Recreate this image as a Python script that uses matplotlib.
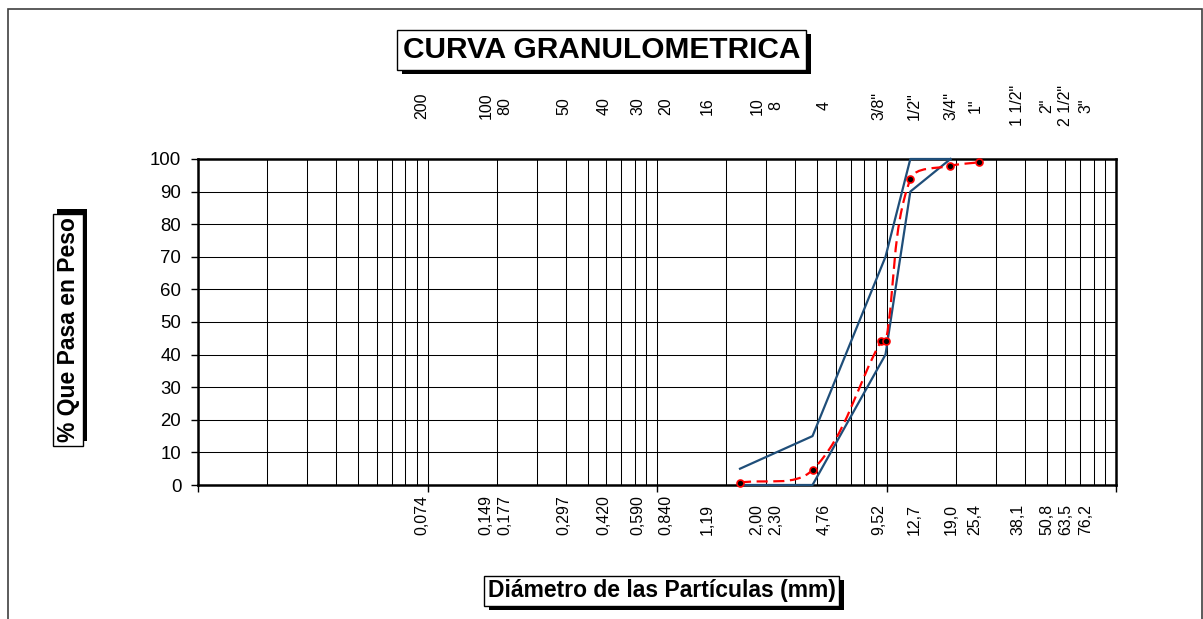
import numpy as np
import matplotlib
matplotlib.use("Agg")
import matplotlib.pyplot as plt
import matplotlib.transforms as mtransforms
from matplotlib.path import Path
from matplotlib.patches import PathPatch, Rectangle
from matplotlib.ticker import LogLocator, NullFormatter, MultipleLocator

plt.rcParams['font.family'] = ['Liberation Sans', 'DejaVu Sans']

# sieve labels (bottom: opening in mm, top: sieve number / size)
mm_labels = ["0,074", "0,149", "0,177", "0,297", "0,420", "0,590", "0,840", "1,19",
             "2,00", "2,30", "4,76", "9,52", "12,7", "19,0", "25,4", "38,1", "50,8",
             "63,5", "76,2"]
sieve_labels = ["200", "100", "80", "50", "40", "30", "20", "16", "10", "8", "4",
                '3/8"', '1/2"', '3/4"', '1"', '1 1/2"', '2"', '2 1/2"', '3"']
# where the labels sit along the log axis (mm)
label_pos_mm = [0.0946, 0.180, 0.218, 0.394, 0.587, 0.826, 1.094, 1.65, 2.73, 3.30,
                5.34, 9.27, 13.2, 19.1, 24.3, 37.4, 50.0, 60.5, 74.0]

# specification limits
upper_mm = [2.30, 4.76, 9.9, 12.7, 19.0]
upper_pct = [5, 15, 70, 100, 100]
lower_mm = [2.30, 4.76, 9.9, 12.7, 19.0]
lower_pct = [0, 0, 40, 90, 100]

# sample grading
sample_mm = [2.30, 4.76, 9.5, 9.95, 12.7, 19.0, 25.4]
sample_pct = [0.7, 4.6, 44.3, 44.3, 93.8, 97.9, 99.0]

W, H = 1203, 619
fig = plt.figure(figsize=(W / 100, H / 100), dpi=100)
ax = fig.add_axes([198 / W, 1 - 485 / H, 918 / W, 326 / H])

ax.set_xscale('log')
ax.set_xlim(0.01, 100)
ax.set_ylim(0, 100)

ax.xaxis.set_major_locator(LogLocator(base=10, numticks=10))
ax.xaxis.set_minor_locator(LogLocator(base=10, subs=np.arange(2, 10), numticks=10))
ax.xaxis.set_major_formatter(NullFormatter())
ax.xaxis.set_minor_formatter(NullFormatter())
ax.yaxis.set_major_locator(MultipleLocator(10))

ax.grid(which='both', axis='x', color='black', lw=0.75)
ax.grid(which='major', axis='y', color='black', lw=0.75)
ax.tick_params(axis='x', which='major', direction='out', length=5, width=1, color='black')
ax.tick_params(axis='x', which='minor', length=0)
ax.tick_params(axis='y', direction='out', length=5, width=1, pad=7, labelsize=13.4)
for sp in ax.spines.values():
    sp.set_linewidth(1.8)
    sp.set_color('black')

# limit curves
ax.plot(upper_mm, upper_pct, color='#1F4E79', lw=1.6, zorder=3, clip_on=False)
ax.plot(lower_mm, lower_pct, color='#1F4E79', lw=1.6, zorder=3, clip_on=False)

# smoothed dashed sample curve (bezier through the points, built in display space)
pts = ax.transData.transform(np.column_stack([sample_mm, sample_pct]))
n = len(pts)
tang = []
for i in range(n):
    d = pts[min(i + 1, n - 1)] - pts[max(i - 1, 0)]
    tang.append(d / np.hypot(*d))
verts = [pts[0]]
codes = [Path.MOVETO]
for i in range(n - 1):
    seg = np.hypot(*(pts[i + 1] - pts[i]))
    verts += [pts[i] + tang[i] * seg / 3, pts[i + 1] - tang[i + 1] * seg / 3, pts[i + 1]]
    codes += [Path.CURVE4] * 3
verts = ax.transData.inverted().transform(np.array(verts))
ax.add_patch(PathPatch(Path(verts, codes), fill=False, ec='red', lw=1.6,
                       ls=(0, (5, 2.5)), zorder=4))
ax.plot(sample_mm, sample_pct, ls='none', marker='o', ms=5, mfc='black', mec='red',
        mew=1.2, zorder=5, clip_on=False)

# axis labels: mm below, sieve numbers above
for p, s in zip(label_pos_mm, mm_labels):
    ax.text(p, -0.153, s, transform=ax.get_xaxis_transform(), rotation=90,
            ha='center', va='bottom', fontsize=11.5)
for p, s in zip(label_pos_mm, sieve_labels):
    ax.text(p, 1.163, s, transform=ax.get_xaxis_transform(), rotation=90,
            ha='center', va='center', fontsize=11.5)

# boxed titles with a drop shadow
boxes = []


def boxed(x, y, txt, size, rot=0, dx=5, dy=-4, pad=0.15):
    t = fig.text(x, y, txt, fontsize=size, weight='bold', ha='center', va='center',
                 rotation=rot, zorder=3,
                 bbox=dict(boxstyle='square,pad=%g' % pad, fc='white', ec='black', lw=1))
    boxes.append((t, dx, dy))


boxed(601.5 / W, 1 - 50 / H, 'CURVA GRANULOMETRICA', 21.5, pad=0.2)
boxed(661.5 / W, 1 - 591 / H, 'Diámetro de las Partículas (mm)', 16.5)
boxed(68 / W, 1 - 330 / H, '% Que Pasa en Peso', 16.5, rot=90, dx=4, dy=5)

fig.canvas.draw()
for t, dx, dy in boxes:
    bb = t.get_bbox_patch().get_window_extent()
    fig.add_artist(Rectangle((bb.x0 + dx, bb.y0 + dy), bb.width, bb.height,
                             transform=mtransforms.IdentityTransform(),
                             fc='black', ec='none', zorder=1))

# outer chart border
fig.patches.append(Rectangle((7.5 / W, -0.1), (1201.5 - 7.5) / W, 1.1 - 8.5 / H,
                             transform=fig.transFigure, fill=False, ec='#404040', lw=1.2))

fig.savefig('out.png', dpi=100)
